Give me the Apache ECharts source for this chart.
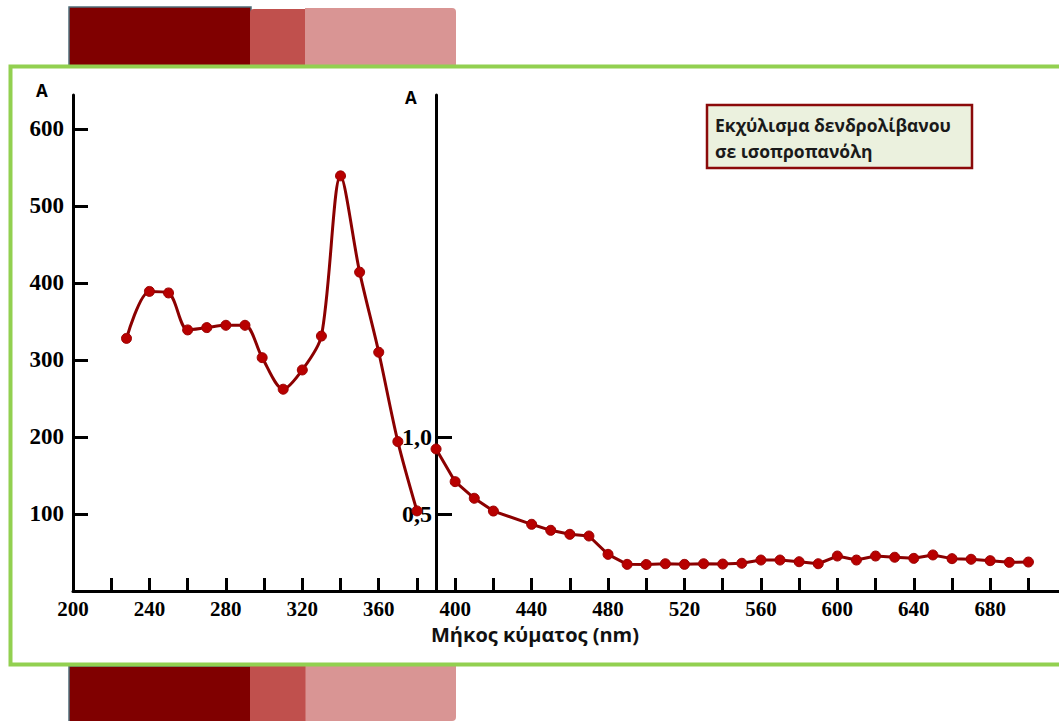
<!DOCTYPE html>
<html>
<head>
<meta charset="utf-8">
<style>
html,body{margin:0;padding:0;background:#fff;}
#chart{width:1059px;height:721px;}
</style>
<script src="https://cdn.jsdelivr.net/npm/echarts@6/dist/echarts.min.js"></script>
</head>
<body>
<div id="chart"></div>
<script>
// ---- data ----
const wavelengthsUV = [228, 240, 250, 260, 270, 280, 290, 299, 310, 320, 330, 340, 350, 360, 370, 380];
const absorbanceUV  = [328, 389, 387, 339, 342, 345, 345, 303, 262, 287, 331, 539, 414, 310, 194, 104];

const wavelengthsVis = [390, 400, 410, 420, 440, 450, 460, 470, 480, 490, 500, 510, 520, 530, 540, 550,
                        560, 570, 580, 590, 600, 610, 620, 630, 640, 650, 660, 670, 680, 690, 700];
const absorbanceVis  = [0.922, 0.710, 0.602, 0.519, 0.433, 0.394, 0.368, 0.357, 0.238, 0.173, 0.172,
                        0.177, 0.173, 0.177, 0.175, 0.180, 0.201, 0.201, 0.190, 0.177, 0.227, 0.201,
                        0.227, 0.219, 0.212, 0.234, 0.210, 0.206, 0.197, 0.186, 0.188];

const xLabelValues = [200, 240, 280, 320, 360, 400, 440, 480, 520, 560, 600, 640, 680];
const xTickValues  = [220, 240, 260, 280, 300, 320, 340, 360, 380, 400, 420, 440, 460, 480, 500,
                      520, 540, 560, 580, 600, 620, 640, 660, 680, 700];
const leftTickValues  = [100, 200, 300, 400, 500, 600];
const rightTickValues = [0.5, 1.0];

const xAxisTitle = 'Μήκος κύματος (nm)';
const yAxisTitle = 'A';
const legendLines = ['Εκχύλισμα δενδρολίβανου', 'σε ισοπροπανόλη'];

// ---- chart ----
const chart = echarts.init(document.getElementById('chart'), null, {renderer: 'svg'});
const serif = '"Liberation Serif", "Times New Roman", serif';
const sans = '"Open Sans", "Noto Sans", sans-serif';
const lineColor = '#8b0000';
const dotColor = '#b80000';

chart.setOption({
  animation: false,
  backgroundColor: '#ffffff',
  grid: {left: 73, right: 0, top: 95, bottom: 130, containLabel: false},
  xAxis: {
    type: 'value', min: 200, max: 716,
    axisLine: {show: true, lineStyle: {color: '#000', width: 3}},
    axisTick: {show: true, inside: true, length: 13, lineStyle: {color: '#000', width: 3}, customValues: xTickValues},
    axisLabel: {show: true, customValues: xLabelValues, margin: 7, color: '#000',
                fontFamily: serif, fontWeight: 'bold', fontSize: 21},
    splitLine: {show: false}
  },
  yAxis: [
    {
      type: 'value', min: 0, max: 644, position: 'left',
      axisLine: {show: true, onZero: false, lineStyle: {color: '#000', width: 3}},
      axisTick: {show: true, inside: true, length: 15, lineStyle: {color: '#000', width: 3}, customValues: leftTickValues},
      axisLabel: {show: true, customValues: leftTickValues, margin: 9, color: '#000',
                  fontFamily: serif, fontWeight: 'bold', fontSize: 23},
      splitLine: {show: false}
    },
    {
      type: 'value', min: 0, max: 3.22, position: 'left', offset: -363,
      axisLine: {show: true, onZero: false, lineStyle: {color: '#000', width: 3}},
      axisTick: {show: true, inside: true, length: 16, lineStyle: {color: '#000', width: 3}, customValues: rightTickValues},
      axisLabel: {show: true, customValues: rightTickValues, margin: 4, color: '#000',
                  fontFamily: serif, fontWeight: 'bold', fontSize: 24,
                  formatter: v => v.toFixed(1).replace('.', ',')},
      splitLine: {show: false}
    }
  ],
  series: [
    {
      type: 'line', yAxisIndex: 0, smooth: 0.3,
      data: wavelengthsUV.map((w, i) => [w, absorbanceUV[i]]),
      symbol: 'circle', symbolSize: 10,
      lineStyle: {color: lineColor, width: 3},
      itemStyle: {color: dotColor, borderColor: '#9a0000', borderWidth: 1},
      z: 5
    },
    {
      type: 'line', yAxisIndex: 1, smooth: false,
      data: wavelengthsVis.map((w, i) => [w, absorbanceVis[i]]),
      symbol: 'circle', symbolSize: 10,
      lineStyle: {color: lineColor, width: 3},
      itemStyle: {color: dotColor, borderColor: '#9a0000', borderWidth: 1},
      z: 5
    }
  ],
  graphic: [
    // decorative bars (top)
    {type: 'rect', z: -5, shape: {x: 69, y: 7, width: 182, height: 60}, style: {fill: '#800000', stroke: '#4f6d7a', lineWidth: 1.5}},
    {type: 'rect', z: -4, shape: {x: 250, y: 9, width: 62, height: 58, r: [4, 4, 0, 0]}, style: {fill: '#c0504d'}},
    {type: 'rect', z: -4, shape: {x: 305, y: 8, width: 151, height: 59, r: [0, 4, 0, 0]}, style: {fill: '#d99594'}},
    // decorative bars (bottom)
    {type: 'rect', z: -5, shape: {x: 69, y: 666, width: 182, height: 60}, style: {fill: '#800000', stroke: '#4f6d7a', lineWidth: 1.5}},
    {type: 'rect', z: -4, shape: {x: 250, y: 666, width: 56, height: 60}, style: {fill: '#c0504d'}},
    {type: 'rect', z: -4, shape: {x: 305.5, y: 666, width: 150.5, height: 55, r: [0, 0, 4, 0]}, style: {fill: '#d99594'}},
    // green frame
    {type: 'rect', z: -3, shape: {x: 10.5, y: 66.5, width: 1070, height: 598}, style: {fill: '#ffffff', stroke: '#92d050', lineWidth: 4}},
    // axis "A" labels
    {type: 'text', z: 10, left: 36, top: 82, style: {text: yAxisTitle, fill: '#000', font: 'bold 17px ' + sans}},
    {type: 'text', z: 10, left: 405, top: 89, style: {text: yAxisTitle, fill: '#000', font: 'bold 17px ' + sans}},
    // x axis title
    {type: 'text', z: 10, x: 535, y: 634, style: {text: xAxisTitle, fill: '#111', font: 'bold 20px ' + sans, align: 'center', verticalAlign: 'middle'}},
    // legend box
    {type: 'rect', z: 10, shape: {x: 707, y: 105, width: 265, height: 63}, style: {fill: '#ebf1de', stroke: '#8b0a0a', lineWidth: 2.5}},
    {type: 'text', z: 11, x: 715, y: 125, style: {text: legendLines[0], fill: '#1a1a1a', font: 'bold 17.5px ' + sans, verticalAlign: 'middle'}},
    {type: 'text', z: 11, x: 715, y: 151, style: {text: legendLines[1], fill: '#1a1a1a', font: 'bold 17.5px ' + sans, verticalAlign: 'middle'}}
  ]
});
</script>
</body>
</html>
